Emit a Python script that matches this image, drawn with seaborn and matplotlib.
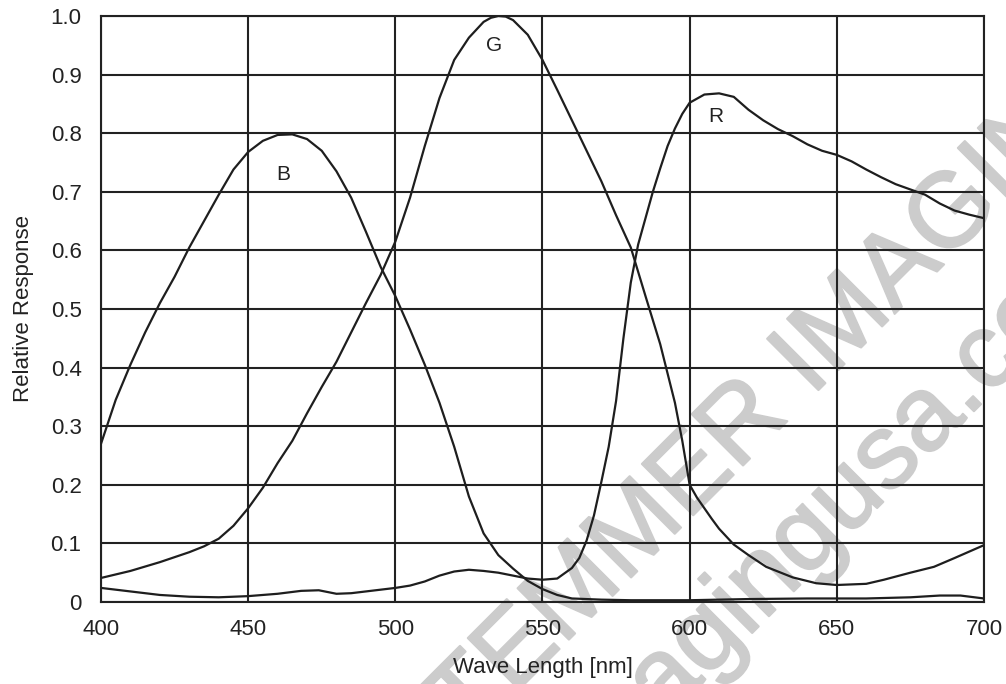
import numpy as np
import pandas as pd
import seaborn as sns
import matplotlib.pyplot as plt
import matplotlib.patheffects as pe

# values
b_nm = [400, 405, 410, 415, 420, 425, 430, 435, 440, 445, 450, 455, 460, 465, 470, 475,
        480, 485, 490, 495, 500, 505, 510, 515, 520, 525, 530, 535, 540, 545, 550, 555,
        560, 570, 580, 600, 620, 640, 660, 675, 685, 692, 700]
b_resp = [0.27, 0.345, 0.405, 0.46, 0.51, 0.555, 0.605, 0.65, 0.695, 0.738, 0.768, 0.787,
          0.797, 0.798, 0.79, 0.77, 0.735, 0.69, 0.632, 0.572, 0.522, 0.465, 0.405, 0.34,
          0.265, 0.18, 0.117, 0.08, 0.057, 0.036, 0.022, 0.012, 0.006, 0.004, 0.003,
          0.003, 0.005, 0.006, 0.006, 0.008, 0.011, 0.011, 0.006]

g_nm = [400, 410, 420, 430, 435, 440, 445, 450, 455, 460, 465, 470, 475, 480, 485, 490,
        495, 500, 505, 510, 515, 520, 525, 530, 532.5, 535, 537.5, 540, 545, 550, 555,
        560, 565, 570, 575, 580, 585, 590, 592.5, 595, 597.5, 600, 602.5, 605, 607.5,
        610, 615, 620, 626, 635, 643, 650, 660, 666, 675, 683, 690, 700]
g_resp = [0.041, 0.053, 0.068, 0.085, 0.095, 0.108, 0.13, 0.16, 0.195, 0.237, 0.275,
          0.322, 0.367, 0.41, 0.46, 0.51, 0.558, 0.615, 0.69, 0.778, 0.86, 0.925, 0.963,
          0.99, 0.997, 1.0, 0.999, 0.993, 0.968, 0.925, 0.874, 0.822, 0.77, 0.718, 0.66,
          0.605, 0.522, 0.44, 0.39, 0.34, 0.275, 0.2, 0.178, 0.16, 0.142, 0.125, 0.098,
          0.08, 0.06, 0.042, 0.032, 0.029, 0.031, 0.038, 0.05, 0.06, 0.075, 0.097]

r_nm = [400, 410, 420, 430, 440, 450, 460, 468, 474, 480, 485, 490, 495, 500, 505, 510,
        515, 520, 525, 530, 535, 540, 545, 550, 555, 560, 562.5, 565, 567.5, 570, 572.5,
        575, 577.5, 580, 582.5, 585, 587.5, 590, 592.5, 595, 597.5, 600, 605, 610, 615,
        620, 625, 630, 635, 640, 645, 650, 655, 660, 665, 670, 675, 680, 685, 690, 695,
        700]
r_resp = [0.024, 0.018, 0.012, 0.009, 0.008, 0.01, 0.014, 0.019, 0.02, 0.014, 0.015,
          0.018, 0.021, 0.024, 0.028, 0.035, 0.045, 0.052, 0.055, 0.053, 0.05, 0.045,
          0.04, 0.038, 0.04, 0.058, 0.075, 0.105, 0.148, 0.205, 0.265, 0.343, 0.45,
          0.545, 0.61, 0.655, 0.7, 0.74, 0.778, 0.808, 0.833, 0.852, 0.866, 0.868, 0.862,
          0.84, 0.822, 0.807, 0.795, 0.781, 0.77, 0.763, 0.752, 0.738, 0.725, 0.713,
          0.704, 0.695, 0.68, 0.668, 0.661, 0.655]

x_ticks = [400, 450, 500, 550, 600, 650, 700]
y_ticks = [0, 0.1, 0.2, 0.3, 0.4, 0.5, 0.6, 0.7, 0.8, 0.9, 1.0]
y_labels = ['0', '0.1', '0.2', '0.3', '0.4', '0.5', '0.6', '0.7', '0.8', '0.9', '1.0']

df = pd.concat([
    pd.DataFrame({'nm': b_nm, 'resp': b_resp, 'ch': 'B'}),
    pd.DataFrame({'nm': g_nm, 'resp': g_resp, 'ch': 'G'}),
    pd.DataFrame({'nm': r_nm, 'resp': r_resp, 'ch': 'R'}),
])

sns.set_style('white')
plt.rcParams['font.family'] = ['Liberation Sans', 'DejaVu Sans']

fig = plt.figure(figsize=(10.06, 6.84), dpi=100)
ax = fig.add_axes([0.1004, 0.1199, 0.8777, 0.8567])
ax.patch.set_alpha(0)

# watermark, behind the axes
wm = dict(fontsize=76, rotation=45, color='#cccccc', ha='center', va='center',
          zorder=-1, path_effects=[pe.withStroke(linewidth=1.5, foreground='#cccccc')])
fig.text(0.752, 0.396, 'STEMMER IMAGING', **wm)
fig.text(0.744, 0.126, 'www.imagingusa.com', **wm)

sns.lineplot(data=df, x='nm', y='resp', hue='ch', units='ch', estimator=None,
             palette=['#1e1e1e'] * 3, linewidth=1.6, legend=False, ax=ax, zorder=3)

ax.text(462, 0.729, 'B', fontsize=15, ha='center', va='center', color='#222')
ax.text(533.5, 0.95, 'G', fontsize=15, ha='center', va='center', color='#222')
ax.text(609, 0.828, 'R', fontsize=15, ha='center', va='center', color='#222')

ax.set_xlim(400, 700)
ax.set_ylim(0, 1.0)
ax.set_xticks(x_ticks)
ax.set_yticks(y_ticks)
ax.set_yticklabels(y_labels)
ax.grid(True, color='#222222', linewidth=1.5)
ax.tick_params(length=0, labelsize=16, colors='#222222')
ax.tick_params(axis='y', pad=14)
ax.tick_params(axis='x', pad=12)
for s in ax.spines.values():
    s.set_color('#222222')
    s.set_linewidth(1.5)

ax.set_xlabel('Wave Length [nm]', fontsize=16, color='#222222')
ax.set_ylabel('Relative Response', fontsize=16, color='#222222')
ax.xaxis.set_label_coords(0.5, -0.094)
ax.yaxis.set_label_coords(-0.076, 0.5)

fig.savefig('out.png', dpi=100)
